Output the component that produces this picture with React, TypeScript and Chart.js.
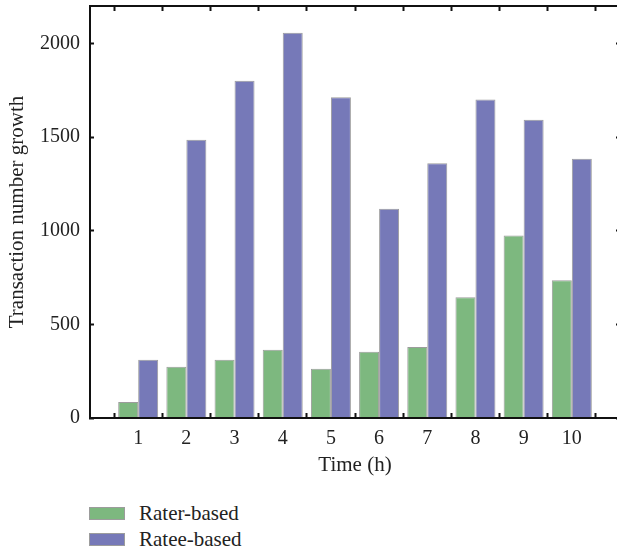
import React, { useEffect, useRef } from "react";
import { Chart, registerables } from "chart.js";

Chart.register(...registerables);

const categories = ["", "1", "2", "3", "4", "5", "6", "7", "8", "9", "10", ""];
const raterBased = [null, 85, 274, 311, 365, 263, 354, 379, 645, 974, 735, null];
const rateeBased = [null, 311, 1486, 1801, 2057, 1713, 1118, 1360, 1701, 1592, 1384, null];
const yTicks = [0, 500, 1000, 1500, 2000];
const yMax = 2200;
const seriesNames = ["Rater-based", "Ratee-based"];
const seriesColors = ["#7db87f", "#7679b8"];

const FONT = "'Liberation Serif', 'Times New Roman', serif";

export default function App() {
  const ref = useRef<HTMLCanvasElement | null>(null);

  useEffect(() => {
    if (!ref.current) return;
    const noPad = (s: any) => {
      s.paddingTop = 0;
      s.paddingBottom = 0;
      s.paddingLeft = 0;
      s.paddingRight = 0;
    };
    const setTicks = (s: any) => {
      s.ticks = yTicks.map((v) => ({ value: v }));
    };
    const chart = new Chart(ref.current, {
      type: "bar",
      data: {
        labels: categories,
        datasets: [
          {
            label: seriesNames[0],
            data: raterBased as any,
            backgroundColor: seriesColors[0],
            borderColor: "#9c9c9c",
            borderWidth: 1,
            categoryPercentage: 0.83,
            barPercentage: 1,
          },
          {
            label: seriesNames[1],
            data: rateeBased as any,
            backgroundColor: seriesColors[1],
            borderColor: "#9c9c9c",
            borderWidth: 1,
            categoryPercentage: 0.83,
            barPercentage: 1,
          },
        ],
      },
      options: {
        responsive: false,
        animation: false,
        layout: { padding: 0 },
        plugins: { legend: { display: false }, tooltip: { enabled: false } },
        scales: {
          x: {
            type: "category",
            position: "bottom",
            offset: false,
            grid: {
              drawOnChartArea: false,
              drawTicks: true,
              tickLength: -5,
              tickWidth: 2,
              tickColor: "#111",
            },
            border: { display: true, color: "#111", width: 2, z: 1 },
            ticks: {
              color: "#222",
              font: { family: FONT, size: 20 },
              padding: 14,
              maxRotation: 0,
              autoSkip: false,
            },
            title: {
              display: true,
              text: "Time (h)",
              color: "#222",
              font: { family: FONT, size: 21 },
              padding: { top: 0, bottom: 2 },
            },
            afterFit: (s: any) => {
              s.height = 62;
              noPad(s);
            },
          },
          x2: {
            type: "category",
            position: "top",
            labels: categories,
            offset: false,
            grid: {
              drawOnChartArea: false,
              drawTicks: true,
              tickLength: -5,
              tickWidth: 2,
              tickColor: "#111",
            },
            border: { display: true, color: "#111", width: 2, z: 1 },
            ticks: { display: false },
            afterFit: (s: any) => {
              s.height = 6;
              noPad(s);
            },
          },
          y: {
            type: "linear",
            position: "left",
            min: 0,
            max: yMax,
            afterBuildTicks: setTicks,
            ticks: {
              autoSkip: false,
              color: "#222",
              font: { family: FONT, size: 20 },
              padding: 14,
              callback: (v: any) => String(v),
            },
            grid: {
              drawOnChartArea: false,
              drawTicks: true,
              tickLength: -4,
              tickWidth: 2,
              tickColor: "#111",
            },
            border: { display: true, color: "#111", width: 2, z: 1 },
            title: {
              display: true,
              text: "Transaction number growth",
              color: "#222",
              font: { family: FONT, size: 21 },
              padding: { top: 5, bottom: 0 },
            },
            afterFit: (s: any) => {
              s.width = 90;
              noPad(s);
            },
          },
          y2: {
            type: "linear",
            position: "right",
            min: 0,
            max: yMax,
            afterBuildTicks: setTicks,
            ticks: { display: false },
            grid: {
              drawOnChartArea: false,
              drawTicks: true,
              tickLength: -4,
              tickWidth: 2,
              tickColor: "#111",
            },
            border: { display: true, color: "#111", width: 2, z: 1 },
            afterFit: (s: any) => {
              s.width = 10;
              noPad(s);
            },
          },
        },
      },
    });
    return () => chart.destroy();
  }, []);

  const legendRow = (i: number, top: number) => (
    <div
      key={i}
      style={{
        position: "absolute",
        left: 89,
        top,
        height: 20,
        display: "flex",
        alignItems: "center",
      }}
    >
      <div
        style={{
          width: 34,
          height: 11,
          background: seriesColors[i],
          border: "1px solid #9c9c9c",
        }}
      />
      <span
        style={{
          marginLeft: 14,
          fontFamily: FONT,
          fontSize: 21,
          color: "#222",
          lineHeight: "20px",
        }}
      >
        {seriesNames[i]}
      </span>
    </div>
  );

  return (
    <div
      style={{
        position: "fixed",
        left: 0,
        top: 0,
        width: 617,
        height: 552,
        overflow: "hidden",
        background: "#fff",
      }}
    >
      <canvas
        ref={ref}
        width={630}
        height={480}
        style={{ position: "absolute", left: 0, top: 0, width: 630, height: 480 }}
      />
      {legendRow(0, 503)}
      {legendRow(1, 529)}
    </div>
  );
}
